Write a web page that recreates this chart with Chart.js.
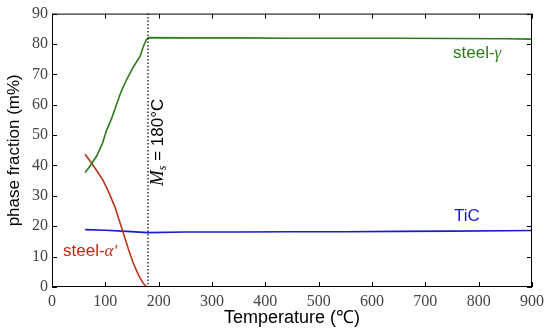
<!DOCTYPE html>
<html>
<head>
<meta charset="utf-8">
<script src="https://cdn.jsdelivr.net/npm/chart.js@4"></script>
<style>
  html, body { margin: 0; padding: 0; background: #fff; }
  #wrap { width: 550px; height: 333px; }
</style>
</head>
<body>
<div id="wrap"><canvas id="phaseChart"></canvas></div>
<script>
// temperatures (°C) and phase fractions (m%)
const gammaT = [62, 70, 84, 95, 102, 112, 121, 130, 140, 152, 165, 172, 177, 181, 250, 350, 450, 550, 650, 750, 850, 900];
const gammaY = [37.7, 39.5, 43.2, 47.5, 51.4, 55.6, 60.1, 64.5, 68.3, 72.3, 75.9, 79.5, 81.4, 82.1, 82.0, 82.0, 81.9, 81.9, 81.9, 81.8, 81.7, 81.6];

const alphaT = [62, 74, 85, 96, 107, 118, 126, 134, 143, 152.5, 162, 171, 178];
const alphaY = [43.7, 40.8, 38.0, 35.0, 31.0, 26.3, 22.0, 17.6, 12.6, 7.8, 4.0, 1.2, 0];

const ticT = [62, 100, 140, 180, 250, 350, 450, 550, 650, 750, 850, 900];
const ticY = [18.9, 18.7, 18.3, 17.9, 18.1, 18.1, 18.2, 18.2, 18.3, 18.4, 18.5, 18.6];

const msTemp = 180;
const xTicks = [0, 100, 200, 300, 400, 500, 600, 700, 800, 900];
const yTicks = [0, 10, 20, 30, 40, 50, 60, 70, 80, 90];

const pts = (xs, ys) => xs.map((x, i) => ({ x: x, y: ys[i] }));

const boxPlugin = {
  id: 'boxPlugin',
  afterDraw(chart) {
    const ctx = chart.ctx;
    const a = chart.chartArea;
    const xs = chart.scales.x, ys = chart.scales.y;
    ctx.save();
    // Ms dotted line
    const mx = xs.getPixelForValue(msTemp);
    ctx.strokeStyle = '#000';
    ctx.lineWidth = 1.2;
    ctx.setLineDash([1.5, 2]);
    ctx.beginPath();
    ctx.moveTo(mx, a.top);
    ctx.lineTo(mx, a.bottom);
    ctx.stroke();
    ctx.setLineDash([]);

    // frame and inward ticks
    ctx.lineWidth = 1;
    ctx.strokeRect(a.left + 0.5, a.top + 0.5, a.right - a.left - 1, a.bottom - a.top - 1);
    ctx.beginPath();
    xTicks.forEach(v => {
      const p = Math.round(xs.getPixelForValue(v)) + 0.5;
      ctx.moveTo(p, a.bottom); ctx.lineTo(p, a.bottom - 5);
      ctx.moveTo(p, a.top); ctx.lineTo(p, a.top + 5);
    });
    yTicks.forEach(v => {
      const p = Math.round(ys.getPixelForValue(v)) + 0.5;
      ctx.moveTo(a.left, p); ctx.lineTo(a.left + 5, p);
      ctx.moveTo(a.right, p); ctx.lineTo(a.right - 5, p);
    });
    ctx.stroke();

    // series labels
    ctx.textBaseline = 'middle';
    ctx.textAlign = 'left';
    const label = (x, y, txt, greek, col) => {
      ctx.fillStyle = col;
      ctx.font = '17px "Liberation Sans", Arial, sans-serif';
      ctx.fillText(txt, x, y);
      const w = ctx.measureText(txt).width;
      ctx.font = 'italic 17px "Liberation Serif", serif';
      ctx.fillText(greek, x + w, y + 1);
    };
    label(453, 53, 'steel-', 'γ', '#2d7a1b');
    label(63, 251, 'steel-', "α'", '#c02a14');
    ctx.fillStyle = '#1a1ad0';
    ctx.font = '17px "Liberation Sans", Arial, sans-serif';
    ctx.fillText('TiC', 454, 216);

    // Ms label rotated, right of the line
    ctx.translate(mx + 10, 186);
    ctx.rotate(-Math.PI / 2);
    ctx.fillStyle = '#000';
    ctx.textBaseline = 'middle';
    ctx.font = 'italic 19px "Liberation Serif", serif';
    ctx.fillText('M', 0, 0);
    let off = ctx.measureText('M').width;
    ctx.font = 'italic 12px "Liberation Serif", serif';
    ctx.fillText('s', off, 5);
    off += ctx.measureText('s').width;
    ctx.font = '17px "Liberation Sans", Arial, sans-serif';
    ctx.fillText(' = 180°C', off, 0);
    ctx.restore();
  }
};

const ctx = document.getElementById('phaseChart').getContext('2d');
new Chart(ctx, {
  type: 'line',
  data: {
    datasets: [
      { label: 'steel-γ', data: pts(gammaT, gammaY), borderColor: '#2d7a1b', borderWidth: 1.6, pointRadius: 0, tension: 0, fill: false },
      { label: "steel-α'", data: pts(alphaT, alphaY), borderColor: '#b8341a', borderWidth: 1.6, pointRadius: 0, tension: 0, fill: false },
      { label: 'TiC', data: pts(ticT, ticY), borderColor: '#1a1ad0', borderWidth: 1.6, pointRadius: 0, tension: 0, fill: false }
    ]
  },
  options: {
    responsive: true,
    maintainAspectRatio: false,
    animation: false,
    layout: { padding: { top: 12, right: 18, left: 0, bottom: 0 } },
    plugins: { legend: { display: false }, tooltip: { enabled: false } },
    scales: {
      x: {
        type: 'linear', min: 0, max: 900,
        afterBuildTicks: s => { s.ticks = xTicks.map(v => ({ value: v })); },
        afterFit: s => { s.height = 46; },
        grid: { display: false, drawTicks: false },
        border: { display: false },
        ticks: { color: '#444', padding: 5, maxRotation: 0, font: { family: '"Liberation Serif", serif', size: 16 } },
        title: { display: true, text: 'Temperature (℃)', color: '#000', padding: { top: 1 }, font: { family: '"Liberation Sans", Arial, sans-serif', size: 18 } }
      },
      y: {
        min: 0, max: 90,
        afterBuildTicks: s => { s.ticks = yTicks.map(v => ({ value: v })); },
        afterFit: s => { s.width = 52; },
        grid: { display: false, drawTicks: false },
        border: { display: false },
        ticks: { color: '#444', padding: 4, font: { family: '"Liberation Serif", serif', size: 16 } },
        title: { display: true, text: 'phase fraction (m%)', color: '#000', padding: { bottom: 0 }, font: { family: '"Liberation Sans", Arial, sans-serif', size: 17 } }
      }
    }
  },
  plugins: [boxPlugin]
});
</script>
</body>
</html>
